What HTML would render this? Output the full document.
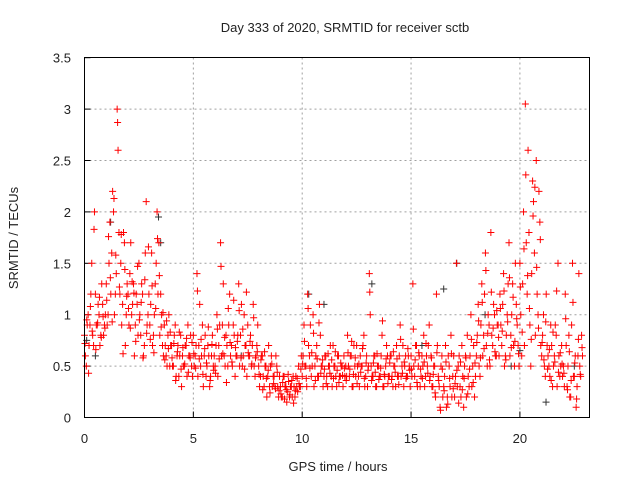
<!DOCTYPE html>
<html><head><meta charset="utf-8"><style>
body{margin:0;background:#fff}
svg text{font-family:"Liberation Sans",sans-serif;font-size:13px;fill:#222}
</style></head><body>
<svg id="chart" width="640" height="480">
<text x="345" y="32" text-anchor="middle">Day 333 of 2020, SRMTID for receiver sctb</text>
<text x="0" y="0" transform="translate(18,238) rotate(-90)" text-anchor="middle">SRMTID / TECUs</text>
<text x="338" y="471" text-anchor="middle">GPS time / hours</text>
<g id="grid"></g><g id="ticks"></g><g id="marks"></g>
<rect x="84.5" y="57.5" width="505" height="360" fill="none" stroke="#000" stroke-width="1"/>
</svg>
<script>
const xTicks=[0,5,10,15,20];
const yTicks=[0,0.5,1,1.5,2,2.5,3,3.5];
const yTickLabels=["0","0.5","1","1.5","2","2.5","3","3.5"];
const stepHours=1/12;
const seriesA=[
0.8,0.5,1.0,0.9,1.5,0.7,1.2,0.9,1.0,0.8,1.1,0.9,
1.3,1.0,1.9,1.6,2.0,1.2,3.0,1.8,1.5,1.1,1.7,1.0,
1.2,1.4,1.0,1.3,0.9,1.1,1.5,0.8,1.2,0.7,2.1,1.0,
0.9,1.6,0.8,1.3,2.0,1.7,1.2,0.7,0.9,0.6,0.8,0.5,
0.7,0.5,0.9,0.6,0.4,0.8,0.6,0.5,0.7,0.9,0.6,0.5,
0.8,0.6,1.4,0.7,0.5,0.9,0.6,0.4,0.7,0.3,0.6,0.5,
0.5,1.0,0.7,1.7,0.9,0.6,0.8,0.5,1.2,0.7,0.9,0.4,
0.6,1.3,0.8,0.5,1.0,0.7,0.9,0.6,0.5,1.1,0.4,0.7,
0.5,0.4,0.6,0.3,0.5,0.4,0.3,0.6,0.4,0.3,0.5,0.2,
0.3,0.2,0.4,0.3,0.25,0.2,0.3,0.4,0.2,0.3,0.5,0.3,
0.4,0.9,0.5,1.2,0.6,0.4,1.0,0.5,0.7,0.4,0.8,0.5,
0.4,0.6,0.3,0.5,0.4,0.7,0.5,0.3,0.6,0.4,0.5,0.6,
0.5,0.8,0.4,0.6,0.3,0.5,0.7,0.4,0.6,0.5,0.8,0.4,
0.3,1.4,0.5,0.4,0.6,0.3,0.5,0.4,0.8,0.3,0.5,0.6,
0.4,0.6,0.3,0.5,0.7,0.4,0.9,0.5,0.3,0.6,0.4,0.5,
0.6,1.3,0.4,0.7,0.5,0.3,0.6,0.8,0.4,0.5,0.9,0.6,
0.3,0.5,1.2,0.4,0.1,0.6,0.3,0.7,0.2,0.5,0.8,0.4,
0.2,1.5,0.5,0.3,0.7,0.1,0.6,0.8,0.3,1.0,0.5,0.2,
0.6,1.1,0.4,1.3,0.8,1.6,0.5,0.9,1.8,0.7,1.0,0.6,
0.9,1.2,0.7,1.4,0.6,1.0,1.7,0.8,1.3,0.5,1.1,0.7,
1.5,0.6,2.0,3.05,1.2,1.8,0.5,2.3,1.6,2.5,1.0,1.9,
0.6,1.0,0.4,0.7,0.5,0.9,0.3,0.6,0.8,1.5,0.4,0.7,
0.5,1.2,0.3,0.8,0.2,1.5,0.4,0.1,0.6,0.5,0.8];
const seriesB=[
0.6,0.9,0.7,1.2,0.8,2.0,0.9,1.1,0.7,1.3,0.8,1.0,
0.9,1.5,1.2,2.2,1.0,1.4,2.6,1.2,0.9,1.8,0.7,1.3,
0.9,1.7,1.1,0.6,1.2,0.8,1.0,1.3,0.6,1.6,0.9,1.2,
1.1,0.7,1.0,1.5,1.2,0.8,1.0,0.6,0.7,0.5,1.0,0.7,
0.5,0.8,0.4,0.7,0.6,0.3,0.5,0.7,0.4,0.6,0.8,0.4,
0.5,0.7,0.4,1.1,0.6,0.3,0.8,0.5,0.6,0.4,0.8,0.6,
0.7,0.4,0.9,0.6,1.3,0.5,0.7,0.9,0.6,0.5,0.8,0.6,
0.8,0.5,1.1,0.6,0.7,0.4,0.6,0.8,0.7,0.5,0.6,0.9,
0.3,0.6,0.4,0.5,0.2,0.7,0.5,0.3,0.4,0.6,0.3,0.4,
0.2,0.4,0.3,0.15,0.35,0.3,0.2,0.3,0.4,0.25,0.3,0.6,
0.6,0.5,0.3,0.7,0.9,0.5,0.3,0.6,0.4,1.1,0.5,0.3,
0.6,0.4,0.5,0.7,0.3,0.5,0.4,0.6,0.4,0.5,0.3,0.4,
0.4,0.5,0.6,0.3,0.7,0.4,0.5,0.3,0.5,0.7,0.3,0.6,
0.5,1.0,0.4,0.6,0.3,0.5,0.4,0.6,0.3,0.4,0.7,0.4,
0.6,0.4,0.5,0.3,0.4,0.6,0.4,0.7,0.5,0.4,0.6,0.3,
0.4,0.5,0.7,0.3,0.6,0.4,0.5,0.3,0.6,0.7,0.4,0.3,
0.5,0.2,0.7,0.3,0.5,0.2,0.4,0.1,0.6,0.3,0.2,0.6,
0.4,0.3,0.6,0.2,0.4,0.5,0.2,0.4,0.6,0.3,0.7,0.4,
0.8,0.5,0.9,0.6,1.2,0.7,1.0,0.5,0.8,1.1,0.6,0.9,
0.6,0.9,1.1,0.5,0.8,1.3,0.6,1.0,0.7,1.5,0.9,0.5,
1.0,1.3,0.7,1.7,2.6,0.9,1.4,2.1,0.8,1.2,2.2,0.7,
0.8,0.5,1.2,0.6,0.4,0.7,0.5,0.9,0.3,0.6,0.5,0.4,
0.3,0.7,0.5,0.2,0.9,0.4,0.6,0.3,1.4,0.4,0.6];
const seriesC=[
0.72,0.95,0.43,1.08,0.84,1.83,0.66,0.92,1.17,0.78,0.98,0.87,
1.14,1.76,1.36,0.93,2.13,1.58,2.87,1.27,1.78,0.62,1.44,1.18,
1.06,0.87,1.32,1.21,0.74,1.47,0.95,1.12,0.58,1.34,0.82,1.66,
0.76,1.28,0.63,1.06,1.74,1.38,0.88,1.02,0.56,0.94,0.67,0.83,
0.58,0.72,0.36,0.64,0.83,0.47,0.68,0.52,0.77,0.44,0.58,0.73,
0.62,0.48,1.23,0.57,0.76,0.42,0.67,0.53,0.88,0.36,0.71,0.46,
0.43,0.86,0.57,1.47,0.62,0.78,0.34,1.06,0.73,0.54,1.14,0.68,
0.74,1.04,0.58,0.86,0.47,1.22,0.63,0.74,0.52,0.97,0.58,0.64,
0.42,0.56,0.27,0.64,0.38,0.46,0.24,0.52,0.33,0.28,0.44,0.26,
0.23,0.34,0.18,0.27,0.42,0.22,0.36,0.14,0.26,0.38,0.33,0.47,
0.52,0.74,0.38,1.06,0.48,0.63,0.82,0.36,0.57,0.92,0.43,0.56,
0.47,0.33,0.62,0.43,0.56,0.38,0.64,0.46,0.34,0.53,0.41,0.48,
0.36,0.63,0.47,0.74,0.42,0.58,0.33,0.52,0.44,0.67,0.38,0.53,
0.46,1.22,0.36,0.53,0.44,0.62,0.37,0.48,0.94,0.42,0.57,0.33,
0.53,0.37,0.64,0.44,0.57,0.32,0.76,0.43,0.54,0.38,0.67,0.46,
0.47,0.86,0.56,0.34,0.63,0.47,0.38,0.54,0.72,0.43,0.36,0.58,
0.42,0.24,0.63,0.36,0.07,0.47,0.26,0.54,0.13,0.38,0.62,0.28,
0.33,0.46,0.14,0.54,0.27,0.38,0.58,0.23,0.47,0.76,0.34,0.53,
0.73,0.94,0.58,1.12,0.67,1.43,0.82,0.56,1.22,0.87,0.64,1.04,
0.78,1.06,0.84,1.23,0.56,0.93,1.36,0.68,1.17,0.74,0.96,0.62,
1.27,0.83,1.64,2.36,1.38,1.06,0.76,1.96,2.24,1.46,0.87,1.73,
0.73,0.56,0.93,0.47,0.66,0.36,0.83,0.54,1.23,0.44,0.63,0.52,
0.43,0.96,0.27,0.64,0.36,1.12,0.53,0.18,0.76,0.42,0.68];
const blackHours=[0.1,0.5,1.2,3.4,3.5,7.2,10.3,11.0,13.2,15.5,16.5,17.1,18.4,19.6,20.0,21.2,22.5];
const blackValues=[0.75,0.6,1.9,1.95,1.7,0.6,1.2,1.1,1.3,0.7,1.25,1.5,1.0,0.5,0.65,0.15,0.5];
const NS="http://www.w3.org/2000/svg";
const X0=84.5,XPX=21.77,Y0=417.5,YPX=102.8;
function sx(h){return X0+h*XPX;}
function sy(v){return Y0-v*YPX;}
const grid=document.getElementById('grid'),ticks=document.getElementById('ticks'),marks=document.getElementById('marks');
function mk(tag,attrs,parent){const e=document.createElementNS(NS,tag);for(const k in attrs)e.setAttribute(k,attrs[k]);parent.appendChild(e);return e;}
xTicks.forEach(t=>{
  const x=sx(t);
  if(t>0){const g=mk('line',{x1:x,x2:x,y1:57.5,y2:417.5,stroke:'#a0a0a0','stroke-dasharray':'2,3'},grid);
  
  }
  const tk=mk('line',{x1:x,x2:x,y1:417.5,y2:411.5,stroke:'#000'},ticks);
  
  
  const tl=mk('text',{x:x,y:443,'text-anchor':'middle'},ticks);tl.textContent=String(t);
  
  
});
yTicks.forEach((t,i)=>{
  const y=sy(t);
  if(t>0&&t<3.5){const g=mk('line',{x1:84.5,x2:589.5,y1:y,y2:y,stroke:'#a0a0a0','stroke-dasharray':'2,3'},grid);
  
  }
  const tk=mk('line',{x1:84.5,x2:90.5,y1:y,y2:y,stroke:'#000'},ticks);
  
  
  const tl=mk('text',{x:71,y:y+5,'text-anchor':'end'},ticks);tl.textContent=yTickLabels[i];
  
  
});
function plus(h,v,color,name){
  const x=sx(h),y=sy(v);
  const p=mk('path',{d:`M${x-3.5},${y}H${x+3.5}M${x},${y-3.5}V${y+3.5}`,stroke:color,'stroke-width':1,fill:'none'},marks);
  
  
}
blackHours.forEach((h,i)=>plus(h,blackValues[i],'#333','black-point'));
seriesA.forEach((v,i)=>plus(i*stepHours,v,'#ff0000','srmtid-point'));
seriesB.forEach((v,i)=>plus(i*stepHours+stepHours/2,v,'#ff0000','srmtid-point'));
seriesC.forEach((v,i)=>plus(i*stepHours+stepHours/4,v,'#ff0000','srmtid-point'));
</script>
</body></html>
